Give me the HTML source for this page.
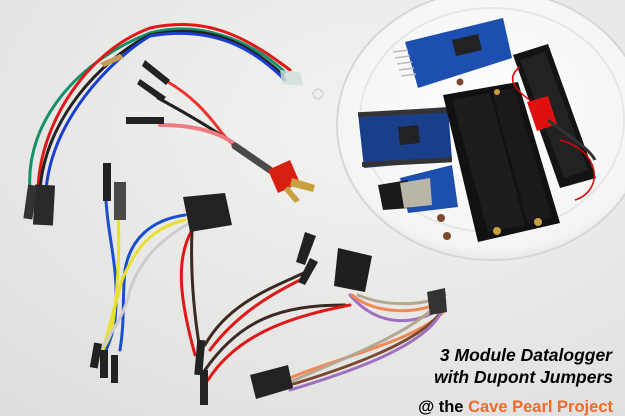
<!DOCTYPE html>
<html><head><style>
html,body{margin:0;padding:0;width:625px;height:416px;overflow:hidden;background:#e9e9e7}
svg{display:block}
text{font-family:"Liberation Sans",Arial,sans-serif;font-weight:bold}
</style></head><body>
<svg width="625" height="416" viewBox="0 0 625 416" xmlns="http://www.w3.org/2000/svg">
<defs>
<radialGradient id="bg" cx="0.6" cy="0.3" r="0.9"><stop offset="0" stop-color="#f3f3f1"/><stop offset="1" stop-color="#dededc"/></radialGradient>
<radialGradient id="disc" cx="0.5" cy="0.45" r="0.6"><stop offset="0" stop-color="#ffffff"/><stop offset="0.85" stop-color="#f4f4f4"/><stop offset="1" stop-color="#dcdcdc"/></radialGradient>
</defs>
<rect width="625" height="416" fill="url(#bg)"/>
<ellipse cx="492" cy="125" rx="155" ry="135" fill="url(#disc)" stroke="#d6d6d6" stroke-width="2"/>
<ellipse cx="492" cy="120" rx="132" ry="112" fill="none" stroke="#e6e6e6" stroke-width="2"/>
<circle cx="441" cy="218" r="4" fill="#7a4a2a"/><circle cx="447" cy="236" r="4" fill="#7a4a2a"/><circle cx="460" cy="82" r="3.5" fill="#7a4a2a"/>
<polygon points="405,42 503,18 512,58 418,88" fill="#1d4fb0"/>
<polygon points="452,40 478,34 482,50 456,56" fill="#222"/>
<g stroke="#bbb" stroke-width="1.5"><line x1="393" y1="52" x2="408" y2="50"/><line x1="395" y1="58" x2="410" y2="56"/><line x1="397" y1="64" x2="412" y2="62"/><line x1="399" y1="70" x2="414" y2="68"/><line x1="401" y1="76" x2="416" y2="74"/></g>
<polygon points="358,113 448,107 452,160 364,168" fill="#1a3f8a"/>
<rect x="358" y="110" width="92" height="5" fill="#333" transform="rotate(-3 400 112)"/>
<rect x="362" y="160" width="90" height="5" fill="#333" transform="rotate(-3 400 162)"/>
<polygon points="398,127 418,125 420,143 400,145" fill="#222"/>
<polygon points="400,178 452,165 458,207 408,213" fill="#1d4fb0"/>
<polygon points="378,185 408,180 410,208 383,210" fill="#1a1a1a"/>
<polygon points="400,183 430,178 432,205 404,208" fill="#b9b6a8"/>
<polygon points="513,55 548,44 596,178 560,188" fill="#141414"/>
<polygon points="520,60 545,52 588,170 564,178" fill="#222"/>
<polygon points="443,95 518,82 560,223 478,242" fill="#111"/>
<polygon points="452,100 490,93 525,225 488,232" fill="#1d1d1d"/>
<polygon points="492,92 514,88 552,218 528,224" fill="#1a1a1a"/>
<circle cx="497" cy="231" r="4" fill="#c9a040"/><circle cx="538" cy="222" r="4" fill="#c9a040"/>
<circle cx="497" cy="92" r="3" fill="#c9a040"/>
<polygon points="527,102 548,96 557,124 537,131" fill="#e01010"/>
<path d="M520,67 C505,78 515,90 530,100 M560,140 C600,150 605,190 575,200" stroke="#d00" stroke-width="1.5" fill="none"/>
<path d="M548,120 C575,140 590,150 595,160" stroke="#333" stroke-width="3" fill="none"/>

<g fill="none" stroke-width="3" stroke-linecap="round">
<path d="M30,190 C25,120 80,60 150,33 C200,20 250,40 285,72" stroke="#15906a"/>
<path d="M38,190 C40,120 90,50 150,28 C210,15 250,40 290,70" stroke="#e01818"/>
<path d="M40,190 C45,120 100,60 150,35 C210,22 250,45 283,75" stroke="#222"/>
<path d="M46,190 C52,120 110,60 150,36 C215,25 255,50 285,80" stroke="#1a3fd0"/>
</g>
<polygon points="280,70 300,72 303,86 282,84" fill="#cfe0d8" opacity="0.8"/>
<circle cx="318" cy="94" r="5" fill="#eee" stroke="#ccc"/>
<polygon points="100,63 120,54 124,58 104,67" fill="#c89a5a"/>
<rect x="34" y="185" width="20" height="40" fill="#2a2a2a" transform="rotate(3 44 205)"/>
<rect x="26" y="185" width="9" height="34" fill="#333" transform="rotate(8 30 200)"/>

<g fill="none" stroke-linecap="round">
<path d="M168,82 C190,95 205,110 222,133 C232,145 240,150 245,150" stroke="#e33" stroke-width="3"/>
<path d="M158,98 C180,110 215,130 240,148" stroke="#222" stroke-width="3"/>
<path d="M160,125 C200,125 225,135 240,148" stroke="#f07a80" stroke-width="4"/>
<path d="M235,146 L270,170" stroke="#4a4a4a" stroke-width="7"/>
</g>
<polygon points="145,60 170,80 166,85 142,66" fill="#222"/>
<polygon points="140,79 166,97 162,102 137,84" fill="#222"/>
<rect x="126" y="117" width="38" height="7" fill="#222"/>
<polygon points="268,170 290,160 300,183 278,193" fill="#d82010"/>
<polygon points="292,178 315,185 313,192 290,186" fill="#c9a040"/>
<polygon points="288,186 300,200 295,203 284,190" fill="#c9a040"/>

<g fill="none" stroke-width="3" stroke-linecap="round">
<path d="M106,200 C108,240 120,270 115,320 C112,340 105,350 103,360" stroke="#1a50d0"/>
<path d="M118,210 C120,250 118,290 112,330 C108,345 100,350 98,360" stroke="#e8e030"/>
<path d="M185,215 C150,220 130,240 125,270 C122,300 125,320 120,350" stroke="#1a50d0"/>
<path d="M185,220 C150,228 135,250 122,280 C114,310 108,330 102,355" stroke="#e8e030"/>
<path d="M188,224 C160,240 140,260 130,290 C125,315 110,335 100,350" stroke="#ccc"/>
<path d="M192,230 C175,260 180,300 195,355" stroke="#e01818"/>
<path d="M192,230 C190,280 195,320 200,350" stroke="#3a2a22"/>
</g>
<rect x="103" y="163" width="8" height="38" fill="#222"/>
<rect x="114" y="182" width="12" height="38" fill="#4a4a4a"/>
<rect x="92" y="343" width="8" height="25" fill="#222" transform="rotate(10 96 355)"/>
<rect x="100" y="350" width="8" height="28" fill="#222"/>
<rect x="111" y="355" width="7" height="28" fill="#222"/>
<polygon points="183,197 225,193 232,225 190,232" fill="#222"/>

<g fill="none" stroke-width="3" stroke-linecap="round">
<path d="M205,345 C230,300 280,285 310,270" stroke="#3a2a22"/>
<path d="M210,350 C240,310 280,290 300,280" stroke="#e01818"/>
<path d="M205,370 C240,320 280,305 345,305" stroke="#3a2a22"/>
<path d="M208,380 C240,330 300,315 350,305" stroke="#e01818"/>
<path d="M350,295 C380,330 420,325 445,305" stroke="#a070c0"/>
<path d="M352,295 C375,315 420,315 445,300" stroke="#f08858"/>
<path d="M358,295 C380,305 420,308 445,295" stroke="#b5a890"/>
<path d="M445,310 C420,340 330,360 290,378" stroke="#f08858"/>
<path d="M445,305 C430,340 340,370 290,385" stroke="#7a4a30"/>
<path d="M443,308 C430,345 350,372 290,390" stroke="#a070c0"/>
<path d="M440,300 C420,330 340,360 290,382" stroke="#b5a890"/>
</g>
<polygon points="305,232 316,236 305,265 296,262" fill="#222"/>
<polygon points="310,258 318,262 305,285 298,282" fill="#222"/>
<polygon points="338,248 372,256 365,292 334,286" fill="#1e1e1e"/>
<polygon points="427,292 445,288 447,312 430,315" fill="#333"/>
<polygon points="250,375 288,365 293,388 256,399" fill="#222"/>
<rect x="196" y="340" width="8" height="35" fill="#222" transform="rotate(5 200 355)"/>
<rect x="200" y="370" width="8" height="35" fill="#222"/>

<text x="612" y="361" text-anchor="end" font-size="17.5" font-style="italic" fill="#000">3 Module Datalogger</text>
<text x="613" y="383" text-anchor="end" font-size="17.5" font-style="italic" fill="#000">with Dupont Jumpers</text>
<text x="613" y="412" text-anchor="end" font-size="16.5" fill="#000">@ the <tspan fill="#f06a28">Cave Pearl Project</tspan></text>
</svg>
</body></html>
